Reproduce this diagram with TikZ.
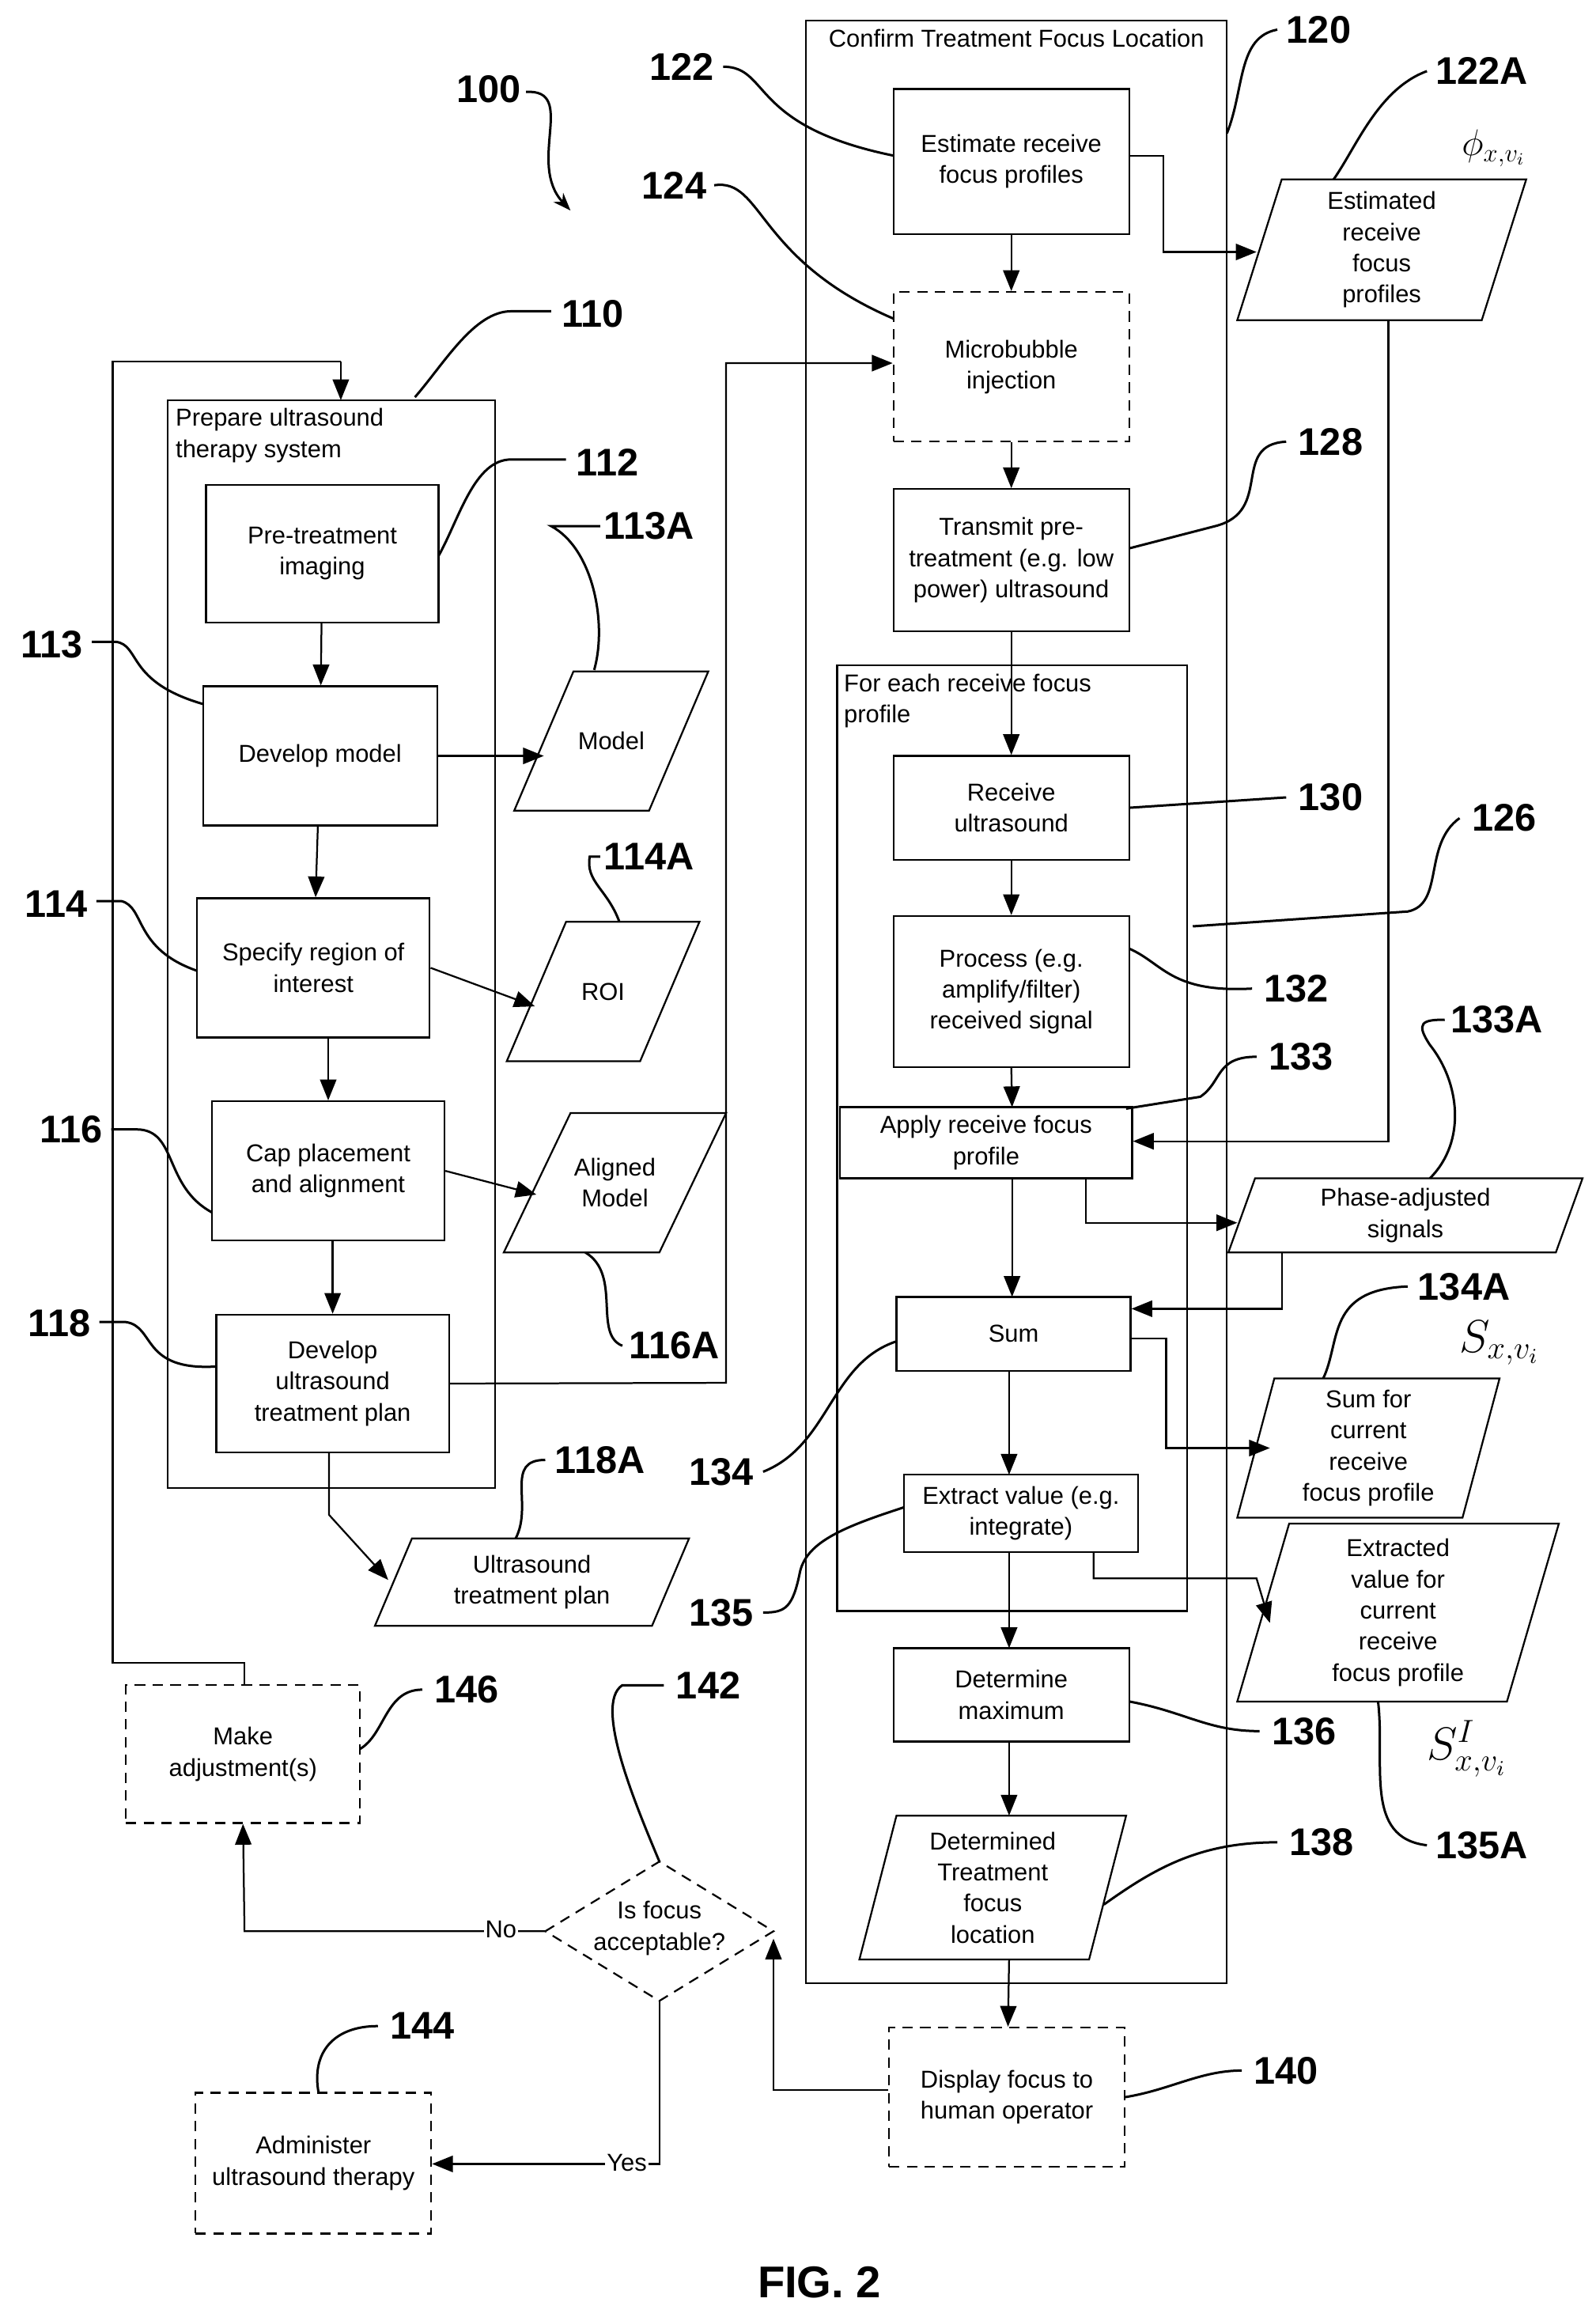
\documentclass[tikz,border=0pt]{standalone}
\usepackage{fontspec}
\usepackage{graphicx}
\setmainfont{Liberation Sans}
\usetikzlibrary{arrows.meta}
\begin{document}
\begin{tikzpicture}[x=1pt,y=-1pt,line width=1.2pt,
  every node/.style={font=\fontsize{16.5}{21}\selectfont},
  box/.style={draw,align=center,inner sep=2pt},
  dbox/.style={box,dashed,dash pattern=on 7pt off 5pt},
  frame/.style={draw},
  arr/.style={-{Triangle[length=14pt,width=11pt]}},
  ref/.style={font=\fontsize{26}{28}\selectfont\bfseries,inner sep=1pt},
  lead/.style={line width=1.6pt},
  ptxt/.style={align=center,inner sep=0pt}]
\useasboundingbox (0,0) rectangle (1077,1566);
\newcommand{\para}[7]{%
  \draw (#2,#5)--({#2+#6},#4)--(#3,#4)--({#3-#6},#5)--cycle;
  \node[ptxt] (#1) at ({(#2+#3)/2},{(#4+#5)/2}) {#7};}
% ---- left frame
\draw[frame] (113,270) rectangle (334,1004);
\node[anchor=north west,align=left,inner sep=0pt] (t110) at (118,275) {Prepare ultrasound\\therapy system};
\node[box,minimum width=157pt,minimum height=93pt] (b112) at (217.5,373.5) {Pre-treatment\\imaging};
\node[box,minimum width=158pt,minimum height=94pt] (b113) at (216,510) {Develop model};
\node[box,minimum width=157pt,minimum height=94pt] (b114) at (211.5,653) {Specify region of\\interest};
\node[box,minimum width=157pt,minimum height=94pt] (b116) at (221.5,790) {Cap placement\\and alignment};
\node[box,minimum width=157pt,minimum height=93pt] (b118) at (224.5,933.5) {Develop\\ultrasound\\treatment plan};
\para{pmod}{347}{478}{453}{547}{40}{Model}
\para{proi}{342}{472}{622}{716}{40}{ROI}
\para{pal}{340}{490}{751}{845}{45}{Aligned\\Model}
\para{pplan}{253}{465}{1038}{1097}{25}{Ultrasound\\treatment plan}
\draw[arr] (b112) -- (b113);
\draw[arr] (b113) -- (b114);
\draw[arr] (b114.south-|b116) -- (b116);
\draw[arr] (b116.south-|b118) -- (b118);
\draw[arr] (b113.east) -- (367,510);
\draw[arr] (b114.east) -- (361,679);
\draw[arr] (b116.east) -- (362,806);
\draw[arr] (222,980) -- (222,1022) -- (262,1066);
% right frame
\draw[frame] (544,14) rectangle (828,1338);
\node[anchor=north,inner sep=0pt] (t120) at (686,19) {Confirm Treatment Focus Location};
\node[box,minimum width=159pt,minimum height=98pt] (b122) at (682.5,109) {Estimate receive\\focus profiles};
\node[dbox,minimum width=159pt,minimum height=101pt] (b124) at (682.5,247.5) {Microbubble\\injection};
\node[box,minimum width=159pt,minimum height=96pt] (b128) at (682.5,378) {Transmit pre-\\treatment (e.g. low\\power) ultrasound};
\draw[frame] (565,449) rectangle (801,1087);
\node[anchor=north west,align=left,inner sep=0pt] (t126) at (569,454) {For each receive focus\\profile};
\node[box,minimum width=159pt,minimum height=70pt] (b130) at (682.5,545) {Receive\\ultrasound};
\node[box,minimum width=159pt,minimum height=102pt] (b132) at (682.5,669) {Process (e.g.\\amplify/filter)\\received signal};
\node[box,minimum width=197pt,minimum height=48pt] (b133) at (665.5,771) {Apply receive focus\\profile};
\node[box,minimum width=158pt,minimum height=50pt] (b134) at (684,900) {Sum};
\node[box,minimum width=158pt,minimum height=52pt] (b135) at (689,1021) {Extract value (e.g.\\integrate)};
\node[box,minimum width=159pt,minimum height=63pt] (b136) at (682.5,1143.5) {Determine\\maximum};
\para{p138}{580}{760}{1225}{1322}{25}{Determined\\Treatment\\focus\\location}
\para{p122A}{835}{1030}{121}{216}{30}{Estimated\\receive\\focus\\profiles}
\para{p133A}{829}{1068}{795}{845}{18}{Phase-adjusted\\signals}
\para{p134A}{835}{1012}{930}{1024}{25}{Sum for\\current\\receive\\focus profile}
\para{p135A}{835}{1052}{1028}{1148}{35}{Extracted\\value for\\current\\receive\\focus profile}
\node[dbox,minimum width=159pt,minimum height=94pt] (b140) at (679.5,1415) {Display focus to\\human operator};
\draw[arr] (b122) -- (b124);
\draw[arr] (b124) -- (b128);
\draw[arr] (b128) -- (b130);
\draw[arr] (b130) -- (b132);
\draw[arr] (b132.south) -- (683,747);
\draw[arr] (683,795) -- (683,875);
\draw[arr] (681,925) -- (681,995);
\draw[arr] (681,1047) -- (681,1112);
\draw[arr] (681,1175) -- (681,1225);
\draw[arr] (681,1322) -- (b140);
\draw[arr] (b122.east|-0,105) -- (785,105) -- (785,170) -- (848,170);
\draw[arr] (937,216) -- (937,770) -- (b133.east|-0,770);
\draw[arr] (733,795) -- (733,825) -- (835,825);
\draw[arr] (865,845) -- (865,883) -- (b134.east|-0,883);
\draw[arr] (b134.east|-0,903) -- (787,903) -- (787,977) -- (857,977);
\draw[arr] (738,1047) -- (738,1065) -- (848,1065) -- (857,1095);
\draw[arr] (b118.east) -- (490,933) -- (490,245) -- (b124.west|-0,245);
% loop and decision
\node[dbox,minimum width=158pt,minimum height=93pt] (b146) at (164,1183.5) {Make\\adjustment(s)};
\draw (165,1137) -- (165,1122) -- (76,1122) -- (76,244) -- (230,244);
\draw[arr] (230,244) -- (230,270);
\draw[dashed,dash pattern=on 7pt off 5pt] (368,1303)--(445,1256)--(522,1303)--(445,1350)--cycle;
\node[align=center,inner sep=0pt] (d142) at (445,1301) {Is focus\\acceptable?};
\node[dbox,minimum width=159pt,minimum height=95pt] (b144) at (211.5,1459.5) {Administer\\ultrasound therapy};
\draw[arr] (368,1303) -- (165,1303) -- (b146.south);
\node[fill=white,inner sep=1pt] (tno) at (338,1302) {No};
\draw[arr] (445,1350) -- (445,1460) -- (b144.east|-0,1460);
\node[fill=white,inner sep=1pt] (tyes) at (423,1459) {Yes};
\draw[arr] (b140.west|-0,1410) -- (522,1410) -- (522,1308);
% math labels
\node[inner sep=0pt] (m1) at (1008,100) {\scalebox{1.45}{$\phi_{x,v_i}$}};
\node[inner sep=0pt] (m2) at (1012,906) {\scalebox{1.8}{$S_{x,v_i}$}};
\node[inner sep=0pt] (m3) at (990,1180) {\scalebox{1.8}{$S^{I}_{x,v_i}$}};
% reference numbers and leaders
\node[ref] (r100) at (330,60) {100};
\draw[lead,-{Stealth[length=12pt]}] (355,62) .. controls (390,60) and (355,110) .. (385,142);
\node[ref] (r110) at (400,212) {110};
\draw[lead] (280,268) .. controls (300,245) and (320,210) .. (345,210) -- (372,210);
\node[ref] (r112) at (410,312) {112};
\draw[lead] (296,375) .. controls (310,350) and (320,310) .. (345,310) -- (382,310);
\node[ref] (r113A) at (438,355) {113A};
\draw[lead] (401,452) .. controls (410,420) and (400,370) .. (372,355) -- (405,355);
\node[ref] (r113) at (35,435) {113};
\draw[lead] (62,433) -- (78,433) .. controls (95,435) and (85,460) .. (137,475);
\node[ref] (r114A) at (438,578) {114A};
\draw[lead] (418,622) .. controls (410,600) and (395,595) .. (398,578) -- (405,578);
\node[ref] (r114) at (38,610) {114};
\draw[lead] (65,608) -- (82,608) .. controls (98,612) and (90,640) .. (133,655);
\node[ref] (r116) at (48,762) {116};
\draw[lead] (75,762) -- (92,762) .. controls (120,762) and (110,800) .. (143,818);
\node[ref] (r116A) at (455,908) {116A};
\draw[lead] (395,845) .. controls (420,860) and (400,900) .. (420,908);
\node[ref] (r118) at (40,893) {118};
\draw[lead] (67,892) -- (85,892) .. controls (105,895) and (95,925) .. (146,922);
\node[ref] (r118A) at (405,985) {118A};
\draw[lead] (348,1038) .. controls (360,1015) and (340,985) .. (368,985);
\node[ref] (r120) at (890,20) {120};
\draw[lead] (828,90) .. controls (840,60) and (835,25) .. (862,20);
\node[ref] (r122) at (460,45) {122};
\draw[lead] (488,45) .. controls (520,45) and (505,85) .. (603,105);
\node[ref] (r122A) at (1000,48) {122A};
\draw[lead] (900,121) .. controls (915,100) and (930,60) .. (963,48);
\node[ref] (r124) at (455,125) {124};
\draw[lead] (482,125) .. controls (515,120) and (510,175) .. (603,215);
\node[ref] (r126) at (1015,552) {126};
\draw[lead] (805,625) -- (950,615) .. controls (975,610) and (960,570) .. (985,552);
\node[ref] (r128) at (898,298) {128};
\draw[lead] (762,370) -- (820,355) .. controls (860,345) and (830,300) .. (868,298);
\node[ref] (r130) at (898,538) {130};
\draw[lead] (762,545) -- (868,538);
\node[ref] (r132) at (875,667) {132};
\draw[lead] (762,640) .. controls (785,650) and (790,670) .. (845,667);
\node[ref] (r133) at (878,713) {133};
\draw[lead] (760,748) -- (810,740) .. controls (825,730) and (820,713) .. (848,713);
\node[ref] (r133A) at (1010,688) {133A};
\draw[lead] (965,795) .. controls (990,770) and (985,730) .. (965,705) .. controls (955,690) and (960,688) .. (975,688);
\node[ref] (r134A) at (988,868) {134A};
\draw[lead] (893,930) .. controls (905,905) and (895,870) .. (950,868);
\node[ref] (r134) at (487,993) {134};
\draw[lead] (605,905) .. controls (560,920) and (560,975) .. (515,993);
\node[ref] (r135) at (487,1088) {135};
\draw[lead] (610,1017) .. controls (570,1030) and (545,1040) .. (540,1060) .. controls (535,1085) and (530,1088) .. (515,1088);
\node[ref] (r135A) at (1000,1245) {135A};
\draw[lead] (930,1148) .. controls (935,1190) and (920,1240) .. (963,1245);
\node[ref] (r136) at (880,1168) {136};
\draw[lead] (762,1148) .. controls (800,1155) and (815,1168) .. (850,1168);
\node[ref] (r138) at (892,1243) {138};
\draw[lead] (745,1285) .. controls (780,1260) and (810,1243) .. (862,1243);
\node[ref] (r140) at (868,1397) {140};
\draw[lead] (759,1415) .. controls (790,1410) and (810,1397) .. (838,1397);
\node[ref] (r142) at (478,1137) {142};
\draw[lead] (445,1256) .. controls (430,1220) and (400,1150) .. (420,1137) -- (448,1137);
\node[ref] (r144) at (285,1367) {144};
\draw[lead] (215,1412) .. controls (210,1385) and (225,1367) .. (255,1367);
\node[ref] (r146) at (315,1140) {146};
\draw[lead] (243,1180) .. controls (260,1170) and (260,1140) .. (285,1140);
\node[font=\fontsize{30}{32}\selectfont\bfseries] (fig) at (553,1540) {FIG. 2};
\end{tikzpicture}
\end{document}
